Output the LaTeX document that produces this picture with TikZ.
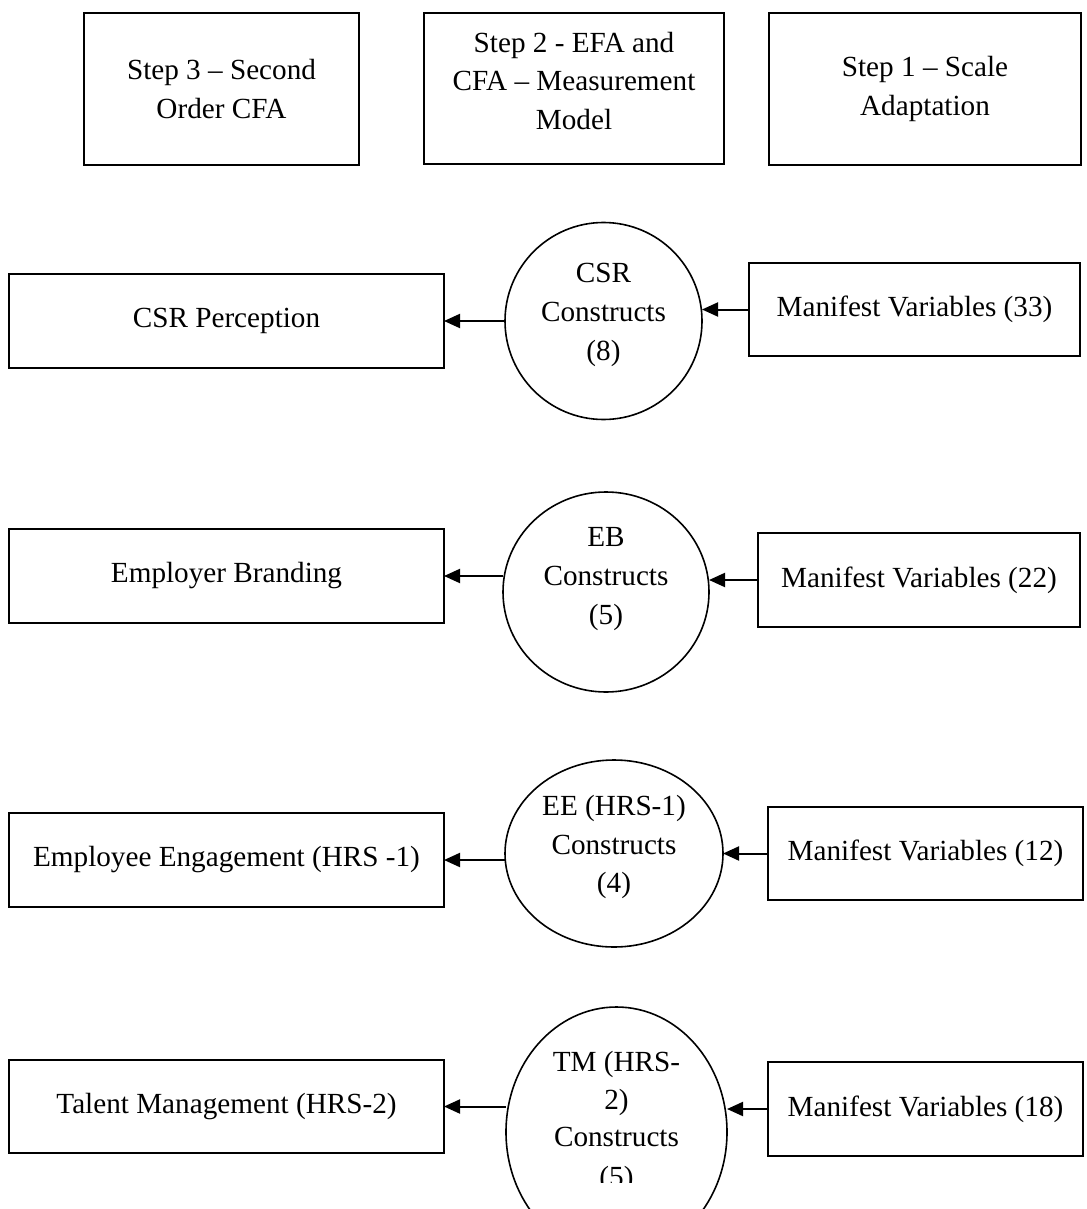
\documentclass[tikz,border=0pt]{standalone}
\usepackage{fontspec}
\setmainfont{Liberation Serif}
\usetikzlibrary{arrows.meta,shapes.geometric}
\begin{document}
\begin{tikzpicture}[x=0.5pt,y=-0.5pt,
  box/.style={draw, line width=1pt, rectangle, inner sep=0pt, outer sep=0pt},
  oval/.style={draw, line width=0.8pt, ellipse, inner sep=0pt, outer sep=0pt},
  txt/.style={align=center, inner sep=0pt, font=\fontsize{14.6pt}{19.4pt}\selectfont},
  link/.style={line width=1pt, -{Triangle[length=8pt,width=7pt]}},
]
\clip (0,0) rectangle (1086,1209);
\fill[white] (0,0) rectangle (1086,1209);

% analysis steps
\node[box, txt, minimum width=137.5pt, minimum height=76pt] (s3) at (221.5,89) {Step 3 – Second\\Order CFA};
\node[box, minimum width=150pt, minimum height=75.5pt] (s2) at (574,88.5) {};
\node[txt] (s2t) at (574,81) {Step 2 - EFA and\\CFA – Measurement\\Model};
\node[box, txt, minimum width=156pt, minimum height=76pt] (s1) at (925,89) {Step 1 – Scale\\Adaptation};

% second order constructs (left column)
\node[box, txt, minimum width=217.5pt, minimum height=47pt] (b1) at (226.5,321) {CSR Perception};
\node[box, txt, minimum width=217.5pt, minimum height=47pt] (b2) at (226.5,576) {Employer Branding};
\node[box, txt, minimum width=217.5pt, minimum height=47pt] (b3) at (226.5,860) {Employee Engagement (HRS -1)};
\node[box, txt, minimum width=217.5pt, minimum height=46.5pt] (b4) at (226.5,1106.5) {Talent Management (HRS-2)};

% first order constructs (middle column)
\node[oval, minimum width=98.5pt, minimum height=98.5pt] (c1) at (603.5,321) {};
\node[txt] (c1t) at (603.5,315) {CSR\\Constructs\\(8)};
\node[oval, minimum width=103pt, minimum height=100pt] (c2) at (606,592) {};
\node[txt] (c2t) at (606,579) {EB\\Constructs\\(5)};
\node[oval, minimum width=109pt, minimum height=93.5pt] (c3) at (614,853.5) {};
\node[txt] (c3t) at (614,847) {EE (HRS-1)\\Constructs\\(4)};
\node[oval, minimum width=110.5pt, minimum height=125pt] (c4) at (616.5,1132) {};
\node[txt, font=\fontsize{14.6pt}{18.5pt}\selectfont] (c4t) at (616.5,1099) {TM (HRS-\\2)\\Constructs};
\begin{scope}
  \clip (500,1140) rectangle (740,1182);
  \node[txt, anchor=base] (c4n) at (616.5,1186) {(5)};
\end{scope}

% manifest variables (right column)
\node[box, txt, minimum width=165.5pt, minimum height=46.5pt] (m1) at (914.5,309.5) {Manifest Variables (33)};
\node[box, txt, minimum width=161pt, minimum height=47pt] (m2) at (919,580) {Manifest Variables (22)};
\node[box, txt, minimum width=157.5pt, minimum height=46.5pt] (m3) at (925.5,853.5) {Manifest Variables (12)};
\node[box, txt, minimum width=157.5pt, minimum height=47pt] (m4) at (925.5,1109) {Manifest Variables (18)};

% connectors
\foreach \i in {1,2,3,4}{
  \draw[link] (m\i.west) -- (m\i.west -| c\i.east);
  \draw[link] (c\i.west |- b\i.east) -- (b\i.east);
}
\end{tikzpicture}
\end{document}
